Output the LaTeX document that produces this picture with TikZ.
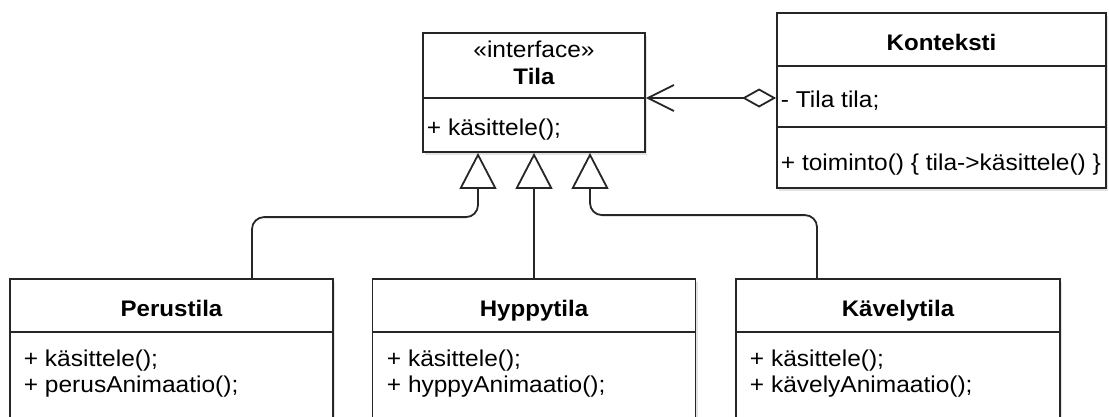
\documentclass[tikz,border=0pt]{standalone}
\usepackage{fontspec}
\setmainfont[FakeStretch=1.07]{Liberation Sans}
\usetikzlibrary{arrows.meta,shadows,calc}
\begin{document}
\begin{tikzpicture}[x=1pt,y=-1pt, line width=1.8pt,
  box/.style={draw=black!85, fill=white, rectangle, inner sep=0pt,
    drop shadow={shadow xshift=2pt, shadow yshift=-3pt, opacity=0.18, fill=black!60}},
  txt/.style={anchor=base west, inner sep=0pt, font=\fontsize{22.9}{26}\selectfont},
  ttl/.style={anchor=base, inner sep=0pt, font=\fontsize{22.9}{26}\selectfont},
  bttl/.style={ttl, font=\fontsize{22.5}{26}\selectfont\bfseries},
  div/.style={draw=black!85},
  impl/.style={draw=black!85, -{Triangle[open,length=36pt,width=37pt,fill=white]}, rounded corners=12pt},
  aggr/.style={draw=black!85, {Diamond[open,length=34pt,width=19pt,fill=white]}-{Straight Barb[length=26pt,width=26pt]}},
]
\clip (0,0) rectangle (1109,416);
\fill[white] (0,0) rectangle (1109,416);

% boxes
\node[box, minimum width=222pt, minimum height=119pt] (tila) at (534,92.5) {};
\node[box, minimum width=329pt, minimum height=175pt] (kon) at (941.5,100.5) {};
\node[box, minimum width=323pt, minimum height=171pt] (per) at (171.5,364.5) {};
\node[box, minimum width=323pt, minimum height=171pt] (hyp) at (534,364.5) {};
\node[box, minimum width=324pt, minimum height=171pt] (kav) at (898,364.5) {};

% dividers
\coordinate (tdiv) at (534,98);
\draw[div] (tila.west |- tdiv) -- (tila.east |- tdiv);
\coordinate (kdiv1) at (941,66);
\coordinate (kdiv2) at (941,127);
\draw[div] (kon.west |- kdiv1) -- (kon.east |- kdiv1);
\draw[div] (kon.west |- kdiv2) -- (kon.east |- kdiv2);
\coordinate (bdiv) at (534,332);
\draw[div] (per.west |- bdiv) -- (per.east |- bdiv);
\draw[div] (hyp.west |- bdiv) -- (hyp.east |- bdiv);
\draw[div] (kav.west |- bdiv) -- (kav.east |- bdiv);

% texts
\node[ttl] (tster) at (534,57) {«interface»};
\node[bttl] (tname) at (534,84) {Tila};
\node[txt] (top1) at (426,135) {+ käsittele();};

\node[bttl] (kname) at (941.5,50) {Konteksti};
\node[txt] (katt) at (780,107) {- Tila tila;};
\node[txt] (kop) at (780,170) {+ toiminto() \{ tila->käsittele() \}};

\node[bttl] (pname) at (171.5,316) {Perustila};
\node[txt] (p1) at (23,366) {+ käsittele();};
\node[txt] (p2) at (23,392) {+ perusAnimaatio();};

\node[bttl] (hname) at (534,316) {Hyppytila};
\node[txt] (h1) at (386,366) {+ käsittele();};
\node[txt] (h2) at (386,392) {+ hyppyAnimaatio();};

\node[bttl] (vname) at (898,316) {Kävelytila};
\node[txt] (v1) at (749,366) {+ käsittele();};
\node[txt] (v2) at (749,392) {+ kävelyAnimaatio();};

% connectors
\draw[impl] ([xshift=80.5pt]per.north) -- ++(0,-61) -| ([xshift=-56pt]tila.south);
\draw[impl] (hyp.north) -- (tila.south);
\draw[impl] ([xshift=-81pt]kav.north) -- ++(0,-63) -| ([xshift=56pt]tila.south);
\draw[aggr] (kon.west |- tdiv) -- (tila.east |- tdiv);
\end{tikzpicture}
\end{document}
